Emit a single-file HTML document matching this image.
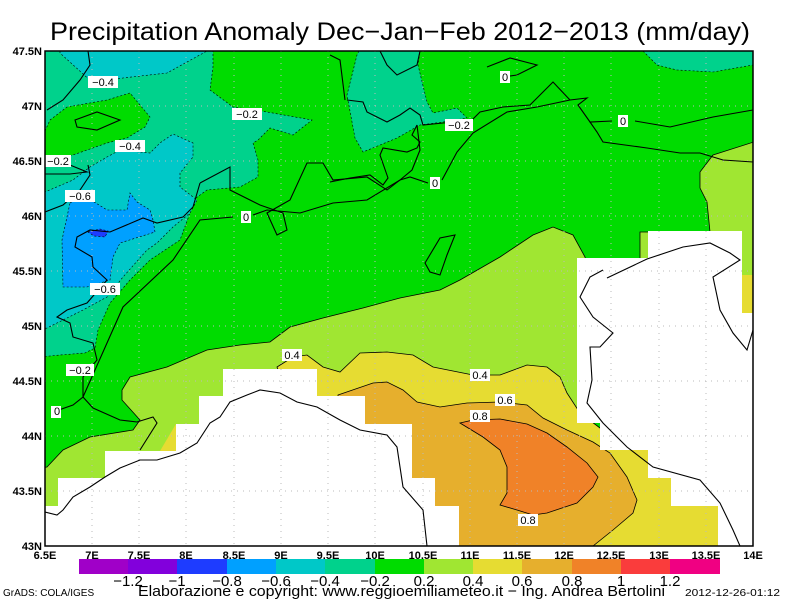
<!DOCTYPE html>
<html><head><meta charset="utf-8"><style>
body{margin:0;background:#fff}
svg{display:block}
text{font-family:"Liberation Sans",sans-serif}
</style></head><body>
<svg width="800" height="600" viewBox="0 0 800 600" xmlns="http://www.w3.org/2000/svg">
<rect width="800" height="600" fill="#fff"/>
<text x="50" y="40" font-size="25" textLength="700" lengthAdjust="spacingAndGlyphs">Precipitation Anomaly Dec−Jan−Feb 2012−2013 (mm/day)</text>
<defs><clipPath id="c"><rect x="45" y="51" width="708" height="495"/></clipPath></defs>
<g clip-path="url(#c)">
<rect x="45" y="51" width="708" height="495" fill="#00dc00"/>
<!-- teal NW -->
<polygon fill="#00d28c" stroke="#000" stroke-width="0.6" stroke-dasharray="2,2" points="40,51 213,51 213,67 210,90 233,107 267,112 312,120 293,135 270,128 258,140 253,143 258,160 258,177 240,187 207,190 193,200 190,213 180,240 150,260 130,280 110,303 98,330 95,348 85,353 60,355 40,357"/>
<polygon fill="#00dc00" stroke="#000" stroke-width="0.6" stroke-dasharray="2,2" points="40,142 50,120 67,107 107,100 130,93 150,117 145,127 127,138 107,143 73,155 40,162"/>
<polygon fill="#00c8c8" stroke="#000" stroke-width="0.6" stroke-dasharray="2,2" points="60,51 60,53 93,83 123,78 167,73 207,51"/>
<polygon fill="#00c8c8" stroke="#000" stroke-width="0.6" stroke-dasharray="2,2" points="40,192 45,192 73,180 90,167 107,157 120,150 150,153 160,143 173,134 193,143 193,157 180,173 180,187 197,200 190,213 173,227 157,243 147,250 123,277 107,297 83,310 47,328 40,330"/>
<polygon fill="#00a0ff" stroke="#000" stroke-width="0.6" stroke-dasharray="2,2" points="70,203 83,195 107,210 127,210 130,193 137,202 150,210 153,220 155,232 120,243 113,257 110,280 87,287 63,287 62,240"/>
<polygon fill="#1e3cff" stroke="#000" stroke-width="0.6" stroke-dasharray="2,2" points="88,232 100,229 108,231 105,237 94,236"/>
<!-- teal N -->
<polygon fill="#00d28c" stroke="#000" stroke-width="0.6" stroke-dasharray="2,2" points="359,51 357,55 347,95 355,138 363,152 397,138 420,125 443,122 467,118 457,108 433,113 427,102 418,65 420,51"/>
<polygon fill="#00d28c" stroke="#000" stroke-width="0.6" stroke-dasharray="2,2" points="643,51 657,65 677,70 713,72 753,65 760,51"/>
<!-- light green -->
<polygon fill="#a0e632" stroke="#000" stroke-width="0.8" points="40,468 47,467 63,450 90,437 133,430 140,420 122,400 122,390 130,377 167,367 207,350 240,345 270,342 290,327 323,318 363,308 400,298 440,290 460,280 500,257 533,235 553,227 573,235 585,257 590,275 590,546 40,546"/>
<polygon fill="#a0e632" stroke="#000" stroke-width="0.8" points="713,155 760,140 760,546 640,546 640,232 710,232 707,202 700,188 700,172"/>
<polygon fill="#e6dc32" points="742,275 760,275 760,313 742,313"/>
<!-- yellow -->
<polygon fill="#e6dc32" stroke="#000" stroke-width="0.8" points="277,367 293,357 307,355 323,367 340,372 360,353 387,352 413,355 433,367 473,375 500,375 527,365 547,367 560,377 567,393 580,413 600,428 620,440 700,450 760,450 760,546 300,546 290,400"/>
<polygon fill="#e6dc32" points="160,451 176,424 176,451"/>
<!-- gold -->
<polygon fill="#e6af2d" stroke="#000" stroke-width="0.8" points="338,395 373,383 387,382 403,390 417,402 440,407 467,403 500,402 527,405 543,418 567,430 593,442 610,453 627,477 637,500 633,513 613,530 593,546 338,546"/>
<!-- orange -->
<polygon fill="#f08228" stroke="#000" stroke-width="0.8" points="460,423 473,420 500,419 527,424 547,433 567,447 587,463 598,477 593,487 577,503 547,513 533,515 517,510 500,505 507,493 507,467 500,450 483,437"/>
<!-- masks -->
<polygon fill="#fff" points="40,546 40,506 58,506 58,478 105,478 105,451 176,451 176,424 199,424 199,396 223,396 223,369 317,369 317,396 365,396 365,424 412,424 412,478 435,478 435,506 459,506 459,550 40,550"/>
<polygon fill="#fff" points="577,258 648,258 648,231 742,231 742,313 760,313 760,550 718,550 718,506 671,506 671,478 648,478 648,450 600,450 600,423 577,423"/>
<!-- gridlines -->
<g stroke="#bbb" stroke-width="1" stroke-dasharray="1,5">
<line x1="92" y1="51" x2="92" y2="546"/><line x1="139" y1="51" x2="139" y2="546"/><line x1="186" y1="51" x2="186" y2="546"/><line x1="234" y1="51" x2="234" y2="546"/><line x1="281" y1="51" x2="281" y2="546"/><line x1="328" y1="51" x2="328" y2="546"/><line x1="375" y1="51" x2="375" y2="546"/><line x1="423" y1="51" x2="423" y2="546"/><line x1="470" y1="51" x2="470" y2="546"/><line x1="517" y1="51" x2="517" y2="546"/><line x1="564" y1="51" x2="564" y2="546"/><line x1="611" y1="51" x2="611" y2="546"/><line x1="659" y1="51" x2="659" y2="546"/><line x1="706" y1="51" x2="706" y2="546"/>
<line x1="45" y1="106" x2="753" y2="106"/><line x1="45" y1="161" x2="753" y2="161"/><line x1="45" y1="216" x2="753" y2="216"/><line x1="45" y1="271" x2="753" y2="271"/><line x1="45" y1="326" x2="753" y2="326"/><line x1="45" y1="381" x2="753" y2="381"/><line x1="45" y1="436" x2="753" y2="436"/><line x1="45" y1="491" x2="753" y2="491"/>
</g>
<!-- map lines -->
<g fill="none" stroke="#000" stroke-width="1.1">
<polyline points="45,512 57,515 63,510 73,497 90,487 105,477 120,468 140,460 157,460 180,453 197,443 210,423 220,417 230,402 247,395 260,390 280,393 297,402 317,407 340,420 360,430 387,435 397,447 403,487 423,510 427,546"/>
<polyline points="603,270 590,277 580,297 593,317 613,333 600,347 590,347 592,380 587,403 603,423 627,447 653,467 700,480 720,503 733,530 740,546"/>
<polyline points="607,278 647,259 683,247 710,243 730,253 740,260 713,277 720,310 733,333 747,350 753,330"/>
<polyline points="45,212 63,205 80,190 90,175 88,165"/>
<polyline points="47,110 63,100 80,80 90,65 88,51"/>
<polyline points="200,183 230,167 230,190 260,205 283,213 287,230 277,235 267,213 290,200 307,163 323,163 333,180 367,177 387,190 400,180 412,170 420,150 417,125"/>
<polyline points="200,183 193,207 183,217 157,223 143,218 110,232 90,230 77,237 75,247 92,257 93,267 107,280 87,303 67,310 57,317 70,323 73,337 93,343 97,360 83,377 83,397 93,408 120,420 137,422 153,417 157,423 140,450"/>
<polyline points="53,412 73,405 83,397 123,307 173,260 200,220 233,217"/>
<polyline points="253,215 267,210 300,213 333,203 367,200 400,180 410,177 428,183"/>
<polyline points="442,180 457,152 473,133 507,112 537,107 570,100 587,98 578,105 590,122 612,121"/>
<polyline points="635,121 670,127 713,117 753,110"/>
<polyline points="347,100 363,102 367,112 387,122 400,115 410,108 420,115 423,125 443,123 470,122 480,112 503,107 530,105 553,82 570,100"/>
<polyline points="590,122 597,132 603,142 647,148 680,153 700,153 723,160 753,162"/>
<polyline points="330,182 350,178 370,175 383,185 388,178 380,155 383,148 407,152 417,148 420,142 412,135 417,125"/>
<polyline points="330,55 340,60 345,100"/><polyline points="380,51 387,65 397,75 417,65 420,51"/>
<polyline points="487,67 510,58 537,65 517,75 503,77"/>
<polygon points="75,120 97,112 120,120 97,130 77,127"/>
<polygon points="45,166 70,165 87,172 70,174 45,174"/>
<polygon points="425,263 440,238 455,235 447,255 440,275 430,272"/>
</g>
<!-- contour labels -->
<g font-size="11" text-anchor="middle">
<rect x="88" y="76" width="30" height="12" fill="#fff"/><text x="103" y="86">−0.4</text>
<rect x="115" y="140" width="30" height="12" fill="#fff"/><text x="130" y="150">−0.4</text>
<rect x="232" y="108" width="30" height="12" fill="#fff"/><text x="247" y="118">−0.2</text>
<rect x="45" y="155" width="26" height="12" fill="#fff"/><text x="58" y="165">−0.2</text>
<rect x="65" y="190" width="30" height="12" fill="#fff"/><text x="80" y="200">−0.6</text>
<rect x="90" y="283" width="30" height="12" fill="#fff"/><text x="105" y="293">−0.6</text>
<rect x="66" y="364" width="28" height="12" fill="#fff"/><text x="80" y="374">−0.2</text>
<rect x="51" y="406" width="10" height="12" fill="#fff"/><text x="57" y="415">0</text>
<rect x="241" y="211" width="10" height="12" fill="#fff"/><text x="246" y="221">0</text>
<rect x="430" y="177" width="10" height="12" fill="#fff"/><text x="435" y="187">0</text>
<rect x="500" y="71" width="10" height="12" fill="#fff"/><text x="505" y="81">0</text>
<rect x="618" y="115" width="10" height="12" fill="#fff"/><text x="623" y="125">0</text>
<rect x="445" y="119" width="28" height="12" fill="#fff"/><text x="459" y="129">−0.2</text>
<rect x="282" y="349" width="20" height="12" fill="#fff"/><text x="292" y="359">0.4</text>
<rect x="470" y="369" width="20" height="12" fill="#fff"/><text x="480" y="379">0.4</text>
<rect x="495" y="394" width="20" height="12" fill="#fff"/><text x="505" y="404">0.6</text>
<rect x="470" y="410" width="20" height="12" fill="#fff"/><text x="480" y="420">0.8</text>
<rect x="518" y="514" width="20" height="12" fill="#fff"/><text x="528" y="524">0.8</text>
</g>
</g>
<rect x="45" y="51" width="708" height="495" fill="none" stroke="#000" stroke-width="1.5"/>
<!-- axis ticks and labels -->
<g font-size="11" font-weight="bold" text-anchor="end">
<text x="42" y="55">47.5N</text><text x="42" y="110">47N</text><text x="42" y="165">46.5N</text><text x="42" y="220">46N</text><text x="42" y="275">45.5N</text><text x="42" y="330">45N</text><text x="42" y="385">44.5N</text><text x="42" y="440">44N</text><text x="42" y="495">43.5N</text><text x="42" y="550">43N</text>
</g>
<g font-size="11" font-weight="bold" text-anchor="middle">
<text x="45" y="559">6.5E</text><text x="92" y="559">7E</text><text x="139" y="559">7.5E</text><text x="186" y="559">8E</text><text x="234" y="559">8.5E</text><text x="281" y="559">9E</text><text x="328" y="559">9.5E</text><text x="375" y="559">10E</text><text x="423" y="559">10.5E</text><text x="470" y="559">11E</text><text x="517" y="559">11.5E</text><text x="564" y="559">12E</text><text x="611" y="559">12.5E</text><text x="659" y="559">13E</text><text x="706" y="559">13.5E</text><text x="753" y="559">14E</text>
</g>
<!-- colorbar -->
<g>
<rect x="79" y="559" width="50" height="15" fill="#a000c8"/>
<rect x="128" y="559" width="50" height="15" fill="#8200dc"/>
<rect x="177" y="559" width="50" height="15" fill="#1e3cff"/>
<rect x="227" y="559" width="50" height="15" fill="#00a0ff"/>
<rect x="276" y="559" width="50" height="15" fill="#00c8c8"/>
<rect x="325" y="559" width="50" height="15" fill="#00d28c"/>
<rect x="375" y="559" width="50" height="15" fill="#00dc00"/>
<rect x="424" y="559" width="50" height="15" fill="#a0e632"/>
<rect x="473" y="559" width="50" height="15" fill="#e6dc32"/>
<rect x="522" y="559" width="50" height="15" fill="#e6af2d"/>
<rect x="572" y="559" width="50" height="15" fill="#f08228"/>
<rect x="621" y="559" width="50" height="15" fill="#fa3c3c"/>
<rect x="670" y="559" width="50" height="15" fill="#f00082"/>
</g>
<g font-size="15" text-anchor="middle">
<text x="128" y="586">−1.2</text><text x="177" y="586">−1</text><text x="227" y="586">−0.8</text><text x="276" y="586">−0.6</text><text x="325" y="586">−0.4</text><text x="375" y="586">−0.2</text><text x="424" y="586">0.2</text><text x="473" y="586">0.4</text><text x="522" y="586">0.6</text><text x="572" y="586">0.8</text><text x="621" y="586">1</text><text x="670" y="586">1.2</text>
</g>
<text x="3" y="596" font-size="10">GrADS: COLA/IGES</text>
<text x="138" y="596" font-size="15" textLength="527" lengthAdjust="spacingAndGlyphs">Elaborazione e copyright: www.reggioemiliameteo.it − Ing. Andrea Bertolini</text>
<text x="685" y="596" font-size="10" textLength="95" lengthAdjust="spacingAndGlyphs">2012-12-26-01:12</text>
</svg>
</body></html>
